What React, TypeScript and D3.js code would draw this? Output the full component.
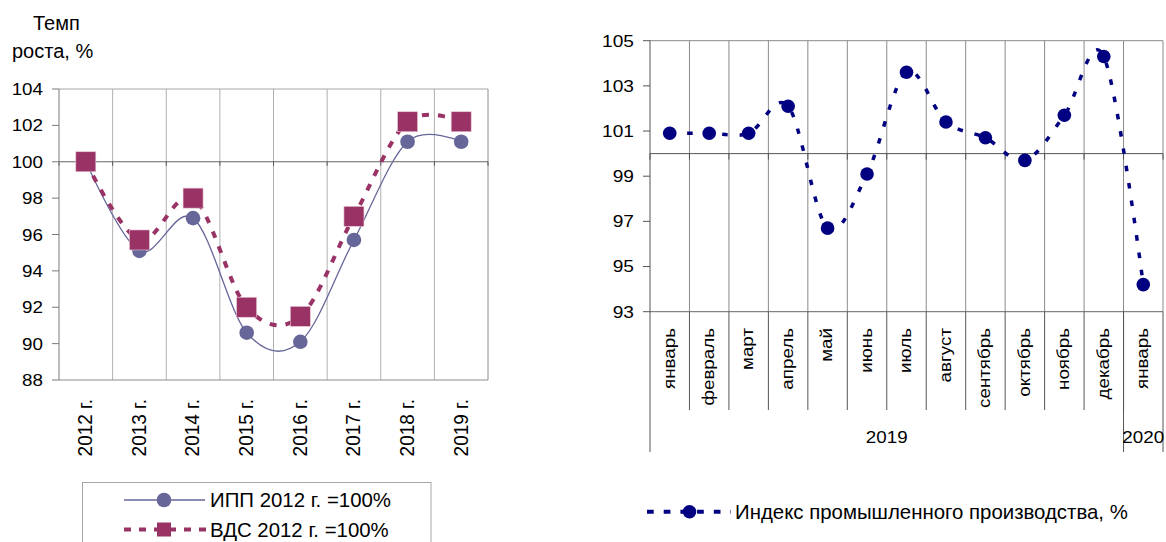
import React from "react";
import * as d3 from "d3";

const years = ["2012 г.", "2013 г.", "2014 г.", "2015 г.", "2016 г.", "2017 г.", "2018 г.", "2019 г."];
const ippValues = [100, 95.1, 96.9, 90.6, 90.1, 95.7, 101.1, 101.1];
const vdsValues = [100, 95.7, 98.0, 92.0, 91.5, 97.0, 102.2, 102.2];
const leftTicks = [88, 90, 92, 94, 96, 98, 100, 102, 104];
const ippLabel = "ИПП 2012 г. =100%";
const vdsLabel = "ВДС 2012 г. =100%";

const months = ["январь", "февраль", "март", "апрель", "май", "июнь", "июль", "август", "сентябрь", "октябрь", "ноябрь", "декабрь", "январь"];
const monthGroups = [{ label: "2019", count: 12 }, { label: "2020", count: 1 }];
const indexValues = [100.9, 100.9, 100.9, 102.1, 96.7, 99.1, 103.6, 101.4, 100.7, 99.7, 101.7, 104.3, 94.2];
const rightTicks = [93, 95, 97, 99, 101, 103, 105];
const indexLabel = "Индекс промышленного производства, %";

const FONT = "'Liberation Sans', Arial, sans-serif";

export default function App() {
  // Left chart scales
  const lx = d3.scaleBand<string>().domain(years).range([59, 488]);
  const ly = d3.scaleLinear().domain([88, 104]).range([380, 89]);
  const lcx = (i: number) => (lx(years[i]) as number) + lx.bandwidth() / 2;
  const smooth = d3.curveCatmullRom.alpha(0);
  const ippLine = d3.line<number>().x((_, i) => lcx(i)).y((d) => ly(d)).curve(smooth);
  const vdsLine = d3.line<number>().x((_, i) => lcx(i)).y((d) => ly(d)).curve(smooth);

  // Right chart scales
  const idx = d3.range(months.length);
  const rx = d3.scaleBand<number>().domain(idx).range([650, 1163]);
  const ry = d3.scaleLinear().domain([93, 105]).range([311.7, 40.7]);
  const rcx = (i: number) => (rx(i) as number) + rx.bandwidth() / 2;
  const idxLine = d3.line<number>().x((_, i) => rcx(i)).y((d) => ry(d)).curve(smooth);

  const lBounds = d3.range(1, years.length).map((i) => lx(years[i]) as number);
  const rBounds = d3.range(1, months.length).map((i) => rx(i) as number);
  const groupEdges: number[] = [0];
  monthGroups.forEach((g) => groupEdges.push(groupEdges[groupEdges.length - 1] + g.count));
  const edgeX = (k: number) => 650 + k * rx.step();

  const L0 = 59, L1 = 488, R0 = 650, R1 = 1163;

  return (
    <svg width={1166} height={542} style={{ position: "absolute", left: 0, top: 0, background: "#fff" }} fontFamily={FONT}>
      <rect width={1166} height={542} fill="#fff" />
      {/* ---------- LEFT CHART ---------- */}
      <text x={33} y={30} fontSize={20} fill="#000">Темп</text>
      <text x={12} y={58} fontSize={20} fill="#000">роста, %</text>

      {lBounds.map((x, i) => (
        <line key={"lg" + i} x1={x} x2={x} y1={ly(104)} y2={ly(88)} stroke="#b0b0b0" strokeWidth={1} />
      ))}
      <line x1={L0} x2={L1} y1={ly(104)} y2={ly(104)} stroke="#a6a6a6" />
      <line x1={L1} x2={L1} y1={ly(104)} y2={ly(88)} stroke="#8c8c8c" />
      <line x1={L0} x2={L1} y1={ly(88)} y2={ly(88)} stroke="#8c8c8c" />
      <line x1={L0} x2={L1} y1={ly(100)} y2={ly(100)} stroke="#666" />
      {[L0, ...lBounds, L1].map((x, i) => (
        <line key={"lt" + i} x1={x} x2={x} y1={ly(100)} y2={ly(100) + 4} stroke="#555" />
      ))}
      <line x1={L0} x2={L0} y1={ly(104)} y2={ly(88)} stroke="#7a7a7a" />
      {leftTicks.map((t) => (
        <g key={"ly" + t}>
          <line x1={L0 - 7} x2={L0} y1={ly(t)} y2={ly(t)} stroke="#7a7a7a" />
          <text transform={`translate(43,${ly(t)}) scale(1.08,1)`} dy="0.35em" textAnchor="end" fontSize={17.4} fill="#000">{t}</text>
        </g>
      ))}
      {years.map((y, i) => (
        <text key={"yl" + i} transform={`translate(${lcx(i) - 1},399) rotate(-90) scale(1,1.1)`} dy="0.35em" textAnchor="end" fontSize={19} fill="#000">{y}</text>
      ))}

      <path d={ippLine(ippValues) || ""} fill="none" stroke="#666699" strokeWidth={1.3} />
      {ippValues.map((v, i) => (
        <circle key={"ip" + i} cx={lcx(i)} cy={ly(v)} r={7.3} fill="#666699" />
      ))}
      <path d={vdsLine(vdsValues) || ""} fill="none" stroke="#993366" strokeWidth={4} strokeDasharray="7,9" />
      {vdsValues.map((v, i) => (
        <rect key={"vd" + i} x={lcx(i) - 10} y={ly(v) - 10} width={20} height={20} fill="#993366" stroke="#e8c8d6" strokeWidth={0.6} />
      ))}

      {/* left legend */}
      <rect x={82.5} y={482.5} width={348.5} height={80} fill="#fff" stroke="#a6a6a6" />
      <line x1={124} x2={205} y1={500} y2={500} stroke="#666699" strokeWidth={1.3} />
      <circle cx={164} cy={500} r={7.3} fill="#666699" />
      <text x={210} y={500} dy="0.35em" fontSize={20.4} fill="#000">{ippLabel}</text>
      <line x1={124} x2={206} y1={529.5} y2={529.5} stroke="#993366" strokeWidth={4} strokeDasharray="7,8" />
      <rect x={157} y={522.5} width={14} height={14} fill="#993366" />
      <text x={210} y={529.5} dy="0.35em" fontSize={20.4} fill="#000">{vdsLabel}</text>

      {/* ---------- RIGHT CHART ---------- */}
      {rBounds.map((x, i) => (
        <line key={"rg" + i} x1={x} x2={x} y1={ry(105)} y2={ry(93)} stroke="#8a8a8a" />
      ))}
      <line x1={R0} x2={R1} y1={ry(105)} y2={ry(105)} stroke="#8a8a8a" />
      <line x1={R1} x2={R1} y1={ry(105)} y2={ry(93)} stroke="#8a8a8a" />
      <line x1={R0} x2={R1} y1={ry(100)} y2={ry(100)} stroke="#555" />
      {[R0, ...rBounds, R1].map((x, i) => (
        <line key={"rt" + i} x1={x} x2={x} y1={ry(100)} y2={ry(100) + 6} stroke="#555" />
      ))}
      <line x1={R0} x2={R1} y1={ry(93)} y2={ry(93)} stroke="#666" />
      <line x1={R0} x2={R0} y1={ry(105)} y2={ry(93)} stroke="#555" />
      {rightTicks.map((t) => (
        <g key={"ry" + t}>
          <line x1={R0 - 7} x2={R0} y1={ry(t)} y2={ry(t)} stroke="#555" />
          <text transform={`translate(634,${ry(t)}) scale(1.14,1)`} dy="0.35em" textAnchor="end" fontSize={16.8} fill="#000">{t}</text>
        </g>
      ))}
      {/* category separators */}
      {rBounds.map((x, i) => (
        <line key={"rs" + i} x1={x} x2={x} y1={ry(93)} y2={410} stroke="#555" />
      ))}
      {groupEdges.map((k, i) => (
        <line key={"ge" + i} x1={edgeX(k)} x2={edgeX(k)} y1={ry(93)} y2={452} stroke="#555" />
      ))}
      {months.map((m, i) => (
        <text key={"ml" + i} transform={`translate(${rcx(i) - 1},328) rotate(-90) scale(1,0.88)`} dy="0.35em" textAnchor="end" fontSize={18.8} fill="#000">{m}</text>
      ))}
      {monthGroups.map((g, i) => (
        <text key={"gl" + i} transform={`translate(${(edgeX(groupEdges[i]) + edgeX(groupEdges[i + 1])) / 2},443.3) scale(1.12,1)`} textAnchor="middle" fontSize={16.8} fill="#000">{g.label}</text>
      ))}

      <path d={idxLine(indexValues) || ""} fill="none" stroke="#000080" strokeWidth={3.5} strokeDasharray="5.5,12" />
      {indexValues.map((v, i) => (
        <circle key={"ix" + i} cx={rcx(i)} cy={ry(v)} r={6.8} fill="#000080" />
      ))}

      {/* right legend */}
      <line x1={647} x2={731} y1={511.7} y2={511.7} stroke="#000080" strokeWidth={4} strokeDasharray="6.7,10" />
      <circle cx={689.5} cy={511.7} r={6.8} fill="#000080" />
      <text x={735} y={511.7} dy="0.35em" fontSize={20.4} fill="#000">{indexLabel}</text>
    </svg>
  );
}
